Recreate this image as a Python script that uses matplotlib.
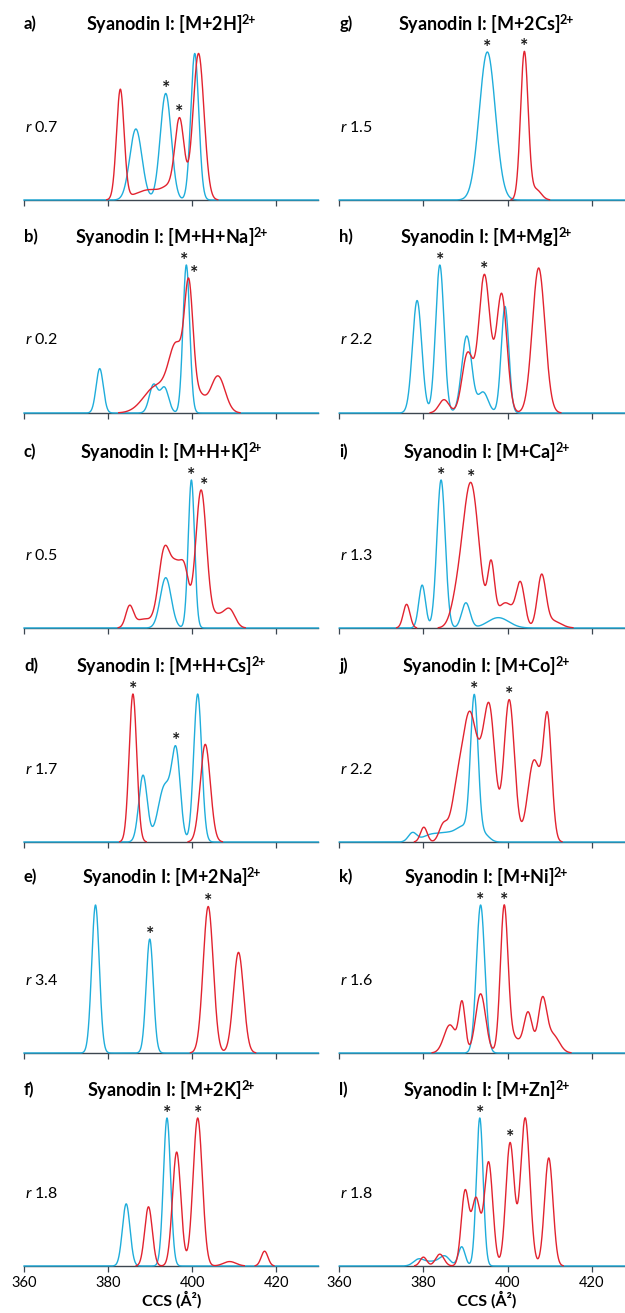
import numpy as np
import matplotlib
matplotlib.use("Agg")
import matplotlib.pyplot as plt

plt.rcParams['font.family'] = ['Lato', 'DejaVu Sans']
plt.rcParams['mathtext.fontset'] = 'custom'
plt.rcParams['mathtext.rm'] = 'Lato'
plt.rcParams['mathtext.it'] = 'Lato:italic'
plt.rcParams['mathtext.bf'] = 'Lato:bold'

# ---------------- data ----------------
panel_labels = ['a)', 'b)', 'c)', 'd)', 'e)', 'f)', 'g)', 'h)', 'i)', 'j)', 'k)', 'l)']
panel_ions = ['M+2H', 'M+H+Na', 'M+H+K', 'M+H+Cs', 'M+2Na', 'M+2K',
              'M+2Cs', 'M+Mg', 'M+Ca', 'M+Co', 'M+Ni', 'M+Zn']
r_values = ['0.7', '0.2', '0.5', '1.7', '3.4', '1.8',
            '1.5', '2.2', '1.3', '2.2', '1.6', '1.8']
x_ticks = [360, 380, 400, 420]
x_label = 'CCS (Å²)'

# CCS distribution peaks:
# (CCS centre in Å², relative height, peak width sigma in Å²)
a_blue = [(386.6, 0.48, 1.45), (393.7, 0.72, 1.3), (400.6, 0.99, 0.95)]
a_red = [(382.9, 0.74, 0.9), (390.0, 0.07, 3.5), (394.5, 0.06, 1.5),
         (397.0, 0.53, 1.1), (401.5, 0.99, 1.3)]
b_blue = [(378.0, 0.30, 0.85), (390.8, 0.19, 1.0), (393.4, 0.17, 1.0), (398.6, 1.0, 0.8)]
b_red = [(391.5, 0.18, 3.0), (396.3, 0.42, 1.8), (399.2, 0.75, 1.0),
         (401.5, 0.12, 1.5), (406.1, 0.25, 1.7)]
c_blue = [(393.7, 0.34, 1.3), (399.8, 1.0, 0.75)]
c_red = [(385.1, 0.14, 0.9), (388.5, 0.06, 2.0), (393.4, 0.52, 1.4), (396.3, 0.36, 1.3),
         (398.3, 0.30, 1.0), (402.1, 0.93, 1.3), (406.0, 0.08, 1.5), (408.9, 0.12, 1.3)]
d_blue = [(388.3, 0.45, 1.0), (393.5, 0.38, 1.6), (396.2, 0.55, 1.0), (401.3, 1.0, 0.95)]
d_red = [(385.9, 1.0, 0.9), (403.1, 0.66, 1.2)]
e_blue = [(377.0, 1.0, 0.9), (389.9, 0.77, 0.85)]
e_red = [(403.8, 0.99, 1.2), (411.0, 0.68, 1.2)]
f_blue = [(384.3, 0.42, 0.9), (394.0, 1.0, 0.85)]
f_red = [(389.6, 0.40, 0.9), (396.3, 0.77, 1.0), (401.3, 1.0, 1.1),
         (408.9, 0.03, 1.5), (417.2, 0.10, 0.8)]
g_blue = [(395.2, 1.0, 1.9)]
g_red = [(404.0, 1.0, 0.9), (406.8, 0.07, 1.2)]
h_blue = [(378.5, 0.76, 1.1), (383.9, 1.0, 1.0), (390.3, 0.52, 1.2),
          (394.2, 0.14, 1.2), (399.4, 0.72, 0.9)]
h_red = [(384.9, 0.09, 1.2), (390.5, 0.40, 1.3), (394.5, 0.93, 1.35),
         (398.6, 0.80, 1.25), (407.4, 0.98, 1.5)]
i_blue = [(379.7, 0.29, 0.8), (384.2, 1.0, 1.0), (390.1, 0.17, 1.0), (397.8, 0.07, 2.5)]
i_red = [(376.0, 0.16, 0.8), (388.0, 0.15, 1.5), (391.3, 0.97, 1.9), (396.1, 0.38, 0.8),
         (399.5, 0.17, 2.0), (403.1, 0.28, 1.0), (408.1, 0.34, 1.0), (410.5, 0.05, 2.0)]
j_blue = [(377.4, 0.06, 1.0), (381.5, 0.04, 2.0), (386.0, 0.06, 2.5), (389.5, 0.08, 1.5),
          (392.1, 0.97, 0.9), (394.5, 0.05, 1.2)]
j_red = [(380.1, 0.10, 0.8), (384.7, 0.11, 1.0), (388.3, 0.38, 1.5), (391.1, 0.78, 1.5),
         (393.5, 0.25, 1.2), (395.7, 0.88, 1.35), (400.4, 0.96, 1.25), (406.3, 0.55, 1.5),
         (409.5, 0.82, 1.0)]
k_blue = [(393.6, 1.0, 1.0)]
k_red = [(386.3, 0.19, 1.4), (389.2, 0.33, 0.75), (393.6, 0.40, 1.2), (399.2, 0.97, 0.9),
         (401.5, 0.10, 1.5), (404.9, 0.27, 1.0), (408.3, 0.35, 1.0), (410.8, 0.12, 1.5)]
l_blue = [(378.8, 0.04, 1.2), (382.0, 0.03, 2.0), (385.1, 0.06, 1.2), (389.1, 0.13, 0.8),
          (393.4, 1.0, 0.8)]
l_red = [(380.0, 0.06, 0.8), (383.9, 0.08, 1.0), (389.9, 0.50, 0.9), (392.5, 0.45, 1.0),
         (395.5, 0.70, 1.0), (400.6, 0.83, 1.0), (404.2, 1.0, 1.1), (409.8, 0.73, 1.0)]

blue_series = [a_blue, b_blue, c_blue, d_blue, e_blue, f_blue,
               g_blue, h_blue, i_blue, j_blue, k_blue, l_blue]
red_series = [a_red, b_red, c_red, d_red, e_red, f_red,
              g_red, h_red, i_red, j_red, k_red, l_red]
# asterisk marks: (series, CCS of the asterisk)
starred = [[('blue', 393.7), ('red', 397.0)],
           [('blue', 398.0), ('red', 400.4)],
           [('blue', 399.8), ('red', 402.8)],
           [('red', 385.9), ('blue', 396.2)],
           [('blue', 389.9), ('red', 403.8)],
           [('blue', 394.0), ('red', 401.3)],
           [('blue', 395.2), ('red', 404.0)],
           [('blue', 383.9), ('red', 394.5)],
           [('blue', 384.2), ('red', 391.3)],
           [('blue', 392.1), ('red', 400.4)],
           [('blue', 393.6), ('red', 399.2)],
           [('blue', 393.4), ('red', 400.6)]]

# ---------------- drawing ----------------
BLUE = '#1FADDB'
RED = '#E2232F'
W, H = 625, 1313
fig = plt.figure(figsize=(W / 100, H / 100), dpi=100)

col_left = [24, 339.3]
col_width = 294.4
baselines = [200, 413, 628, 842, 1053, 1266]
ax_h = 150.0
unit = 148.0  # px for relative height 1.0

xg = np.linspace(360, 430, 2801)


def profile(peaks):
    y = np.zeros_like(xg)
    for c, h, s in peaks:
        y += h * np.exp(-0.5 * ((xg - c) / s) ** 2)
    return y


for idx in range(12):
    col = idx // 6
    row = idx % 6
    left = col_left[col] / W
    bottom = 1 - baselines[row] / H
    ax = fig.add_axes([left, bottom, col_width / W, ax_h / H])
    ax.set_xlim(360, 430)
    ax.set_ylim(0, ax_h / unit)
    for s in ['top', 'right', 'left']:
        ax.spines[s].set_visible(False)
    ax.spines['bottom'].set_color('#3c4650')
    ax.spines['bottom'].set_linewidth(1.0)
    ax.set_yticks([])
    ax.set_xticks(x_ticks)
    ax.tick_params(axis='x', direction='out', length=4, width=0.9, color='#3c4650',
                   labelsize=10.5, pad=3)
    if row != 5:
        ax.set_xticklabels([])
    else:
        ax.set_xlabel(x_label, fontsize=11.5, fontweight='bold', labelpad=1)

    yb = profile(blue_series[idx])
    yr = profile(red_series[idx])
    yr_m = np.where(yr > 2e-3, yr, np.nan)
    ax.plot(xg, yb, color=BLUE, lw=1.0, clip_on=False, zorder=3)
    ax.plot(xg, yr_m, color=RED, lw=1.0, clip_on=False, zorder=4)

    for series, xc in starred[idx]:
        yy = yb if series == 'blue' else yr
        win = np.abs(xg - xc) < 1.3
        ytop = yy[win].max()
        ax.text(xc, ytop - 0.005, '*', ha='center', va='baseline', fontsize=14,
                fontweight='bold', color='#1a1a1a', zorder=5)

    ax.text(0.0, 176 / ax_h, panel_labels[idx], transform=ax.transAxes,
            ha='left', va='center', fontsize=12, fontweight='bold')
    ax.text(0.5, 176 / ax_h, 'Syanodin I: [' + panel_ions[idx] + ']$^{\\mathbf{2}\\!\\mathbf{+}}$',
            transform=ax.transAxes, ha='center', va='center', fontsize=13,
            fontweight='bold')
    ax.text(0.004, 73 / ax_h, '$\\mathit{r}$ ' + r_values[idx], transform=ax.transAxes,
            ha='left', va='center', fontsize=11.5)

fig.savefig('out.png', dpi=100)
